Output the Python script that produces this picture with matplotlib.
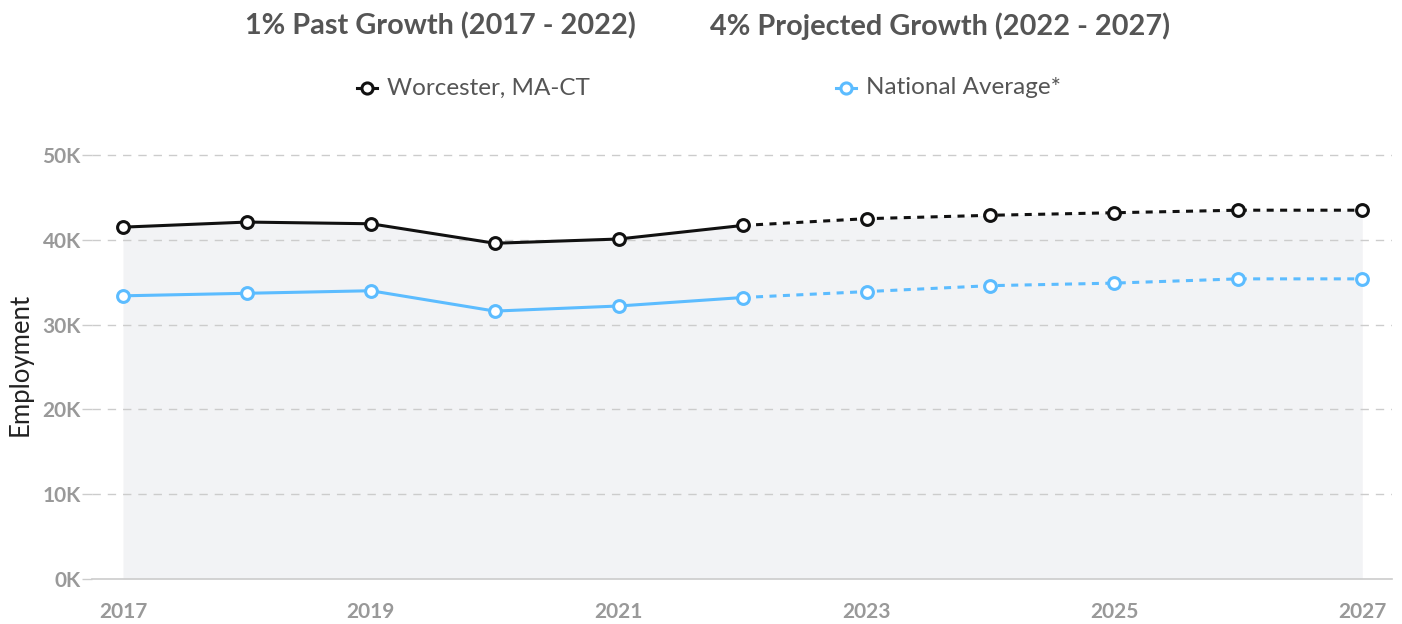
import matplotlib
matplotlib.use("Agg")
import matplotlib.pyplot as plt
from matplotlib.lines import Line2D

years = [2017, 2018, 2019, 2020, 2021, 2022, 2023, 2024, 2025, 2026, 2027]
worcester = [41500, 42100, 41900, 39600, 40100, 41700, 42500, 42900, 43200, 43500, 43500]
national = [33400, 33700, 34000, 31600, 32200, 33200, 33900, 34600, 34900, 35400, 35400]
split_year = 2022
yticks = [0, 10000, 20000, 30000, 40000, 50000]
ytick_labels = ["0K", "10K", "20K", "30K", "40K", "50K"]
xticks = [2017, 2019, 2021, 2023, 2025, 2027]
title_left = "1% Past Growth (2017 - 2022)"
title_right = "4% Projected Growth (2022 - 2027)"
series_names = ["Worcester, MA-CT", "National Average*"]

BLACK = "#111111"
BLUE = "#5cbcff"
TXT = "#555555"
TICK = "#999999"

plt.rcParams['font.family'] = ['Lato', 'DejaVu Sans']

fig = plt.figure(figsize=(14.02, 6.24), dpi=100)
ax = fig.add_axes([92/1402, 1-579/624, 1300/1402, 429/624])

si = years.index(split_year)
ax.fill_between(years, 0, worcester, color="#f2f3f5", zorder=0, linewidth=0)

for vals, col in [(worcester, BLACK), (national, BLUE)]:
    ax.plot(years[:si+1], vals[:si+1], color=col, lw=2.2, zorder=3)
    ax.plot(years[si:], vals[si:], color=col, lw=2.2, ls=(0, (2.3, 2.1)), zorder=3)
    ax.plot(years, vals, ls='none', marker='o', ms=8.5, mfc='white', mec=col, mew=2.2, zorder=4)

ax.set_xlim(2016.75, 2027.24)
ax.set_ylim(0, 50600)
ax.set_yticks(yticks)
ax.set_yticklabels(ytick_labels)
ax.set_xticks(xticks)
ax.set_xticklabels([str(x) for x in xticks])
for y in yticks[1:]:
    ax.axhline(y, color="#cccccc", lw=1.0, ls=(0, (6, 5)), zorder=1)

for s in ['top', 'right', 'left']:
    ax.spines[s].set_visible(False)
ax.spines['bottom'].set_color("#cccccc")
ax.spines['bottom'].set_linewidth(1.2)
ax.tick_params(axis='y', length=7, color="#cccccc", width=1.0, pad=1, labelsize=15, labelcolor=TICK)
ax.tick_params(axis='x', length=0, pad=24, labelsize=15, labelcolor=TICK)
for lab in ax.get_xticklabels() + ax.get_yticklabels():
    lab.set_fontweight('bold')
for lab in ax.get_xticklabels():
    lab.set_verticalalignment('center')

ax.set_ylabel("Employment", fontsize=18.5, color="#222222")
ax.yaxis.set_label_coords(-59/1300, 0.5)

fig.text(440/1402, 1-26/624, title_left, ha='center', va='center', fontsize=20.8, fontweight='bold', color=TXT)
fig.text(940/1402, 1-26/624, title_right, ha='center', va='center', fontsize=20.8, fontweight='bold', color=TXT)

for name, col, mx in [(series_names[0], BLACK, 367), (series_names[1], BLUE, 846)]:
    fig.add_artist(Line2D([(mx-10)/1402, (mx+10)/1402], [1-88/624]*2, color=col, lw=2.2,
                          marker='None', transform=fig.transFigure))
    fig.add_artist(Line2D([mx/1402], [1-88/624], color=col, marker='o', ms=8, mfc='white', mew=2.2,
                          ls='none', transform=fig.transFigure))
    fig.text((mx+20)/1402, 1-88/624, name, ha='left', va='center', fontsize=17.5, color=TXT)

fig.savefig("out.png", dpi=100)
